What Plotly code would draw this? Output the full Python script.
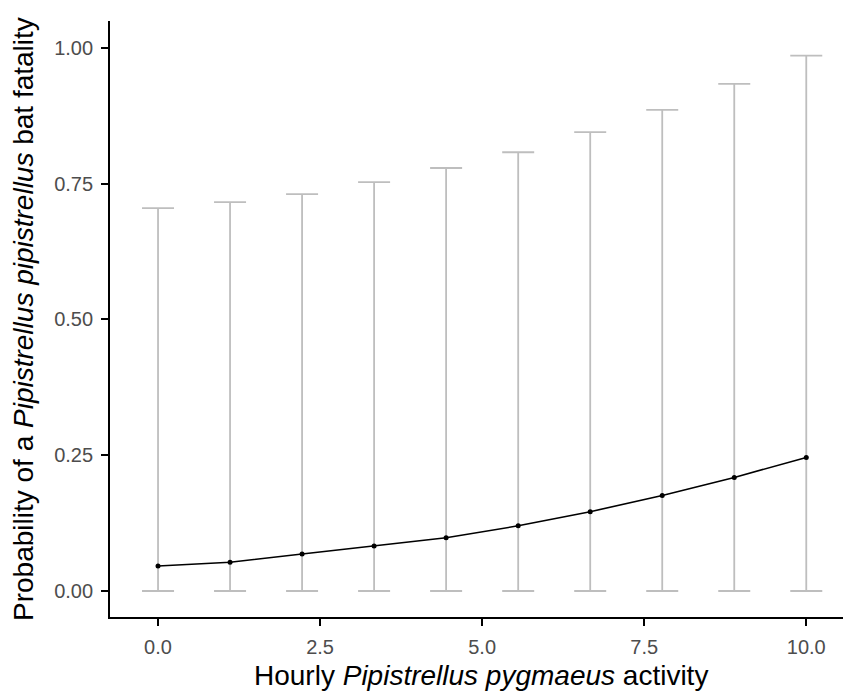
import plotly.graph_objects as go

x_values = [0.0, 1.111, 2.222, 3.333, 4.444, 5.556, 6.667, 7.778, 8.889, 10.0]
mean_prob = [0.046, 0.053, 0.068, 0.083, 0.098, 0.120, 0.146, 0.176, 0.209, 0.246]
upper_ci = [0.705, 0.716, 0.731, 0.753, 0.779, 0.808, 0.845, 0.886, 0.934, 0.986]
lower_ci = [0.0, 0.0, 0.0, 0.0, 0.0, 0.0, 0.0, 0.0, 0.0, 0.0]

x_ticks = [0.0, 2.5, 5.0, 7.5, 10.0]
x_tick_labels = ["0.0", "2.5", "5.0", "7.5", "10.0"]
y_ticks = [0.0, 0.25, 0.5, 0.75, 1.0]
y_tick_labels = ["0.00", "0.25", "0.50", "0.75", "1.00"]

x_title = "Hourly <i>Pipistrellus pygmaeus</i> activity"
y_title = "Probability of a <i>Pipistrellus pipistrellus</i> bat fatality"

err_plus = [u - m for u, m in zip(upper_ci, mean_prob)]
err_minus = [m - l for m, l in zip(mean_prob, lower_ci)]

fig = go.Figure()
fig.add_trace(go.Scatter(
    x=x_values, y=mean_prob, mode="markers",
    marker=dict(size=1, color="rgba(0,0,0,0)"),
    error_y=dict(type="data", symmetric=False, array=err_plus, arrayminus=err_minus,
                 color="#BEBEBE", thickness=1.8, width=16),
    showlegend=False, hoverinfo="skip",
))
fig.add_trace(go.Scatter(
    x=x_values, y=mean_prob, mode="lines+markers",
    line=dict(color="black", width=1.6),
    marker=dict(size=5, color="black"),
    showlegend=False,
))

font_family = "Liberation Sans, Arial, sans-serif"
axis_common = dict(
    showline=True, linecolor="black", linewidth=1.8, mirror=False,
    ticks="outside", ticklen=7, tickwidth=1.8, tickcolor="black",
    tickfont=dict(size=20, color="#4D4D4D"), showgrid=False, zeroline=False,
    automargin=False,
)
# the page body has an 8px default margin, so the figure is offset by 8px
fig.update_layout(
    width=843, height=687,
    margin=dict(l=102, r=0, t=13, b=78),
    plot_bgcolor="white", paper_bgcolor="white",
    font=dict(family=font_family),
    xaxis=dict(range=[-0.741, 10.69], tickvals=x_ticks, ticktext=x_tick_labels,
               ticklabelstandoff=4, **axis_common),
    yaxis=dict(range=[-0.0479, 1.0497], tickvals=y_ticks, ticktext=y_tick_labels,
               ticklabelstandoff=4, **axis_common),
    annotations=[
        dict(text=x_title, xref="paper", yref="paper", x=0.5, y=0,
             xanchor="center", yanchor="middle", yshift=-58, showarrow=False,
             font=dict(size=28, color="black")),
        dict(text=y_title, xref="paper", yref="paper", x=0, y=0.5,
             xanchor="center", yanchor="middle", xshift=-87, textangle=-90,
             showarrow=False, font=dict(size=28, color="black")),
    ],
)

fig.write_html("out.html")
